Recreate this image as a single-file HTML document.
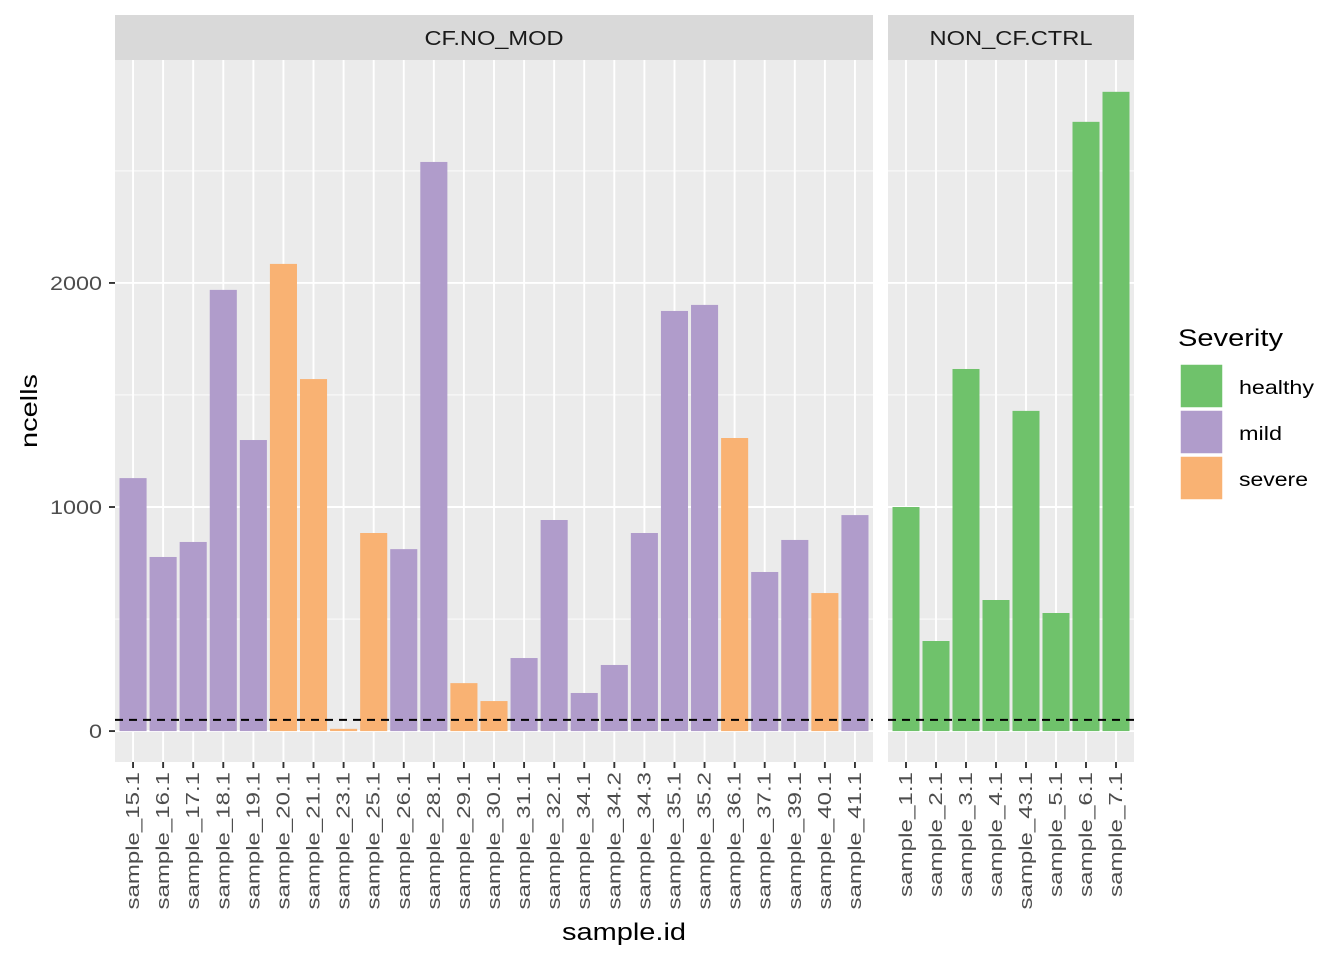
<!DOCTYPE html>
<html><head><meta charset="utf-8"><style>
html,body{margin:0;padding:0;background:#fff;}
svg text{font-family:"Liberation Sans",Arial,sans-serif;}
</style></head><body>
<svg id="chart" width="1344" height="960" xmlns="http://www.w3.org/2000/svg">
<g id="g"></g>
</svg>
<script>
const panel1Categories = ["sample_15.1","sample_16.1","sample_17.1","sample_18.1","sample_19.1","sample_20.1","sample_21.1","sample_23.1","sample_25.1","sample_26.1","sample_28.1","sample_29.1","sample_30.1","sample_31.1","sample_32.1","sample_34.1","sample_34.2","sample_34.3","sample_35.1","sample_35.2","sample_36.1","sample_37.1","sample_39.1","sample_40.1","sample_41.1"];
const panel1Values = [1129,777,844,1969,1299,2085,1571,10,884,812,2540,214,134,326,942,170,295,884,1875,1902,1308,710,853,616,964];
const panel1Severity = ["mild","mild","mild","mild","mild","severe","severe","severe","severe","mild","mild","severe","severe","mild","mild","mild","mild","mild","mild","mild","severe","mild","mild","severe","mild"];
const panel2Categories = ["sample_1.1","sample_2.1","sample_3.1","sample_4.1","sample_43.1","sample_5.1","sample_6.1","sample_7.1"];
const panel2Values = [1000,402,1616,585,1429,527,2719,2853];
const panel2Severity = ["healthy","healthy","healthy","healthy","healthy","healthy","healthy","healthy"];
const yTicks = [0,1000,2000];
const yMinor = [500,1500,2500];
const thresholdValue = 50;
const legendLevels = ["healthy","mild","severe"];

const colors = {healthy:"#6FC26B", mild:"#B09CCB", severe:"#F9B273"};
const NS = "http://www.w3.org/2000/svg";
const g = document.getElementById('g');
function el(tag, attrs, parent){ const e=document.createElementNS(NS,tag); for(const k in attrs) e.setAttribute(k,attrs[k]); (parent||g).appendChild(e); return e; }
const PT=60, PB=762;
const yMin=-138, yMax=2995;
function y(v){ return PB-(v-yMin)/(yMax-yMin)*(PB-PT); }
const CW=12.5; // px per character in x labels

function drawPanel(x0,x1,cats,vals,sev,title,name,titleLen){
  const n=cats.length, unit=(x1-x0)/(n-1+1.2);
  const xc=i=>x0+(0.6+i)*unit;
  const pg=el('g',{});
  
  
  el('rect',{x:x0,y:PT,width:x1-x0,height:PB-PT,fill:'#EBEBEB'},pg);
  yMinor.forEach(v=>el('line',{x1:x0,x2:x1,y1:y(v),y2:y(v),stroke:'#fff','stroke-width':0.9},pg));
  yTicks.forEach(v=>el('line',{x1:x0,x2:x1,y1:y(v),y2:y(v),stroke:'#fff','stroke-width':1.9},pg));
  cats.forEach((c,i)=>el('line',{x1:xc(i),x2:xc(i),y1:PT,y2:PB,stroke:'#fff','stroke-width':1.9},pg));
  vals.forEach((v,i)=>{
    const r=el('rect',{x:xc(i)-0.45*unit,width:0.9*unit,y:Math.min(y(v),y(0)),height:Math.abs(y(0)-y(v)),fill:colors[sev[i]]},pg);
    
    
  });
  const th=el('line',{x1:x0,x2:x1,y1:y(thresholdValue),y2:y(thresholdValue),stroke:'#000','stroke-width':2,'stroke-dasharray':'8,6'},pg);
  
  
  const st=el('rect',{x:x0,y:15,width:x1-x0,height:45,fill:'#D9D9D9'},pg);
  
  
  const t=el('text',{x:(x0+x1)/2,y:45,'text-anchor':'middle','font-size':20,fill:'#1A1A1A',textLength:titleLen,lengthAdjust:'spacingAndGlyphs'},pg);
  t.textContent=title;
  
  
  cats.forEach((c,i)=>{
    el('line',{x1:xc(i),x2:xc(i),y1:PB,y2:PB+6,stroke:'#333','stroke-width':1.9},pg);
    const l=el('text',{x:0,y:0,transform:`translate(${xc(i)+6},772) rotate(-90)`,'text-anchor':'end','font-size':18,fill:'#4D4D4D',textLength:c.length*CW,lengthAdjust:'spacingAndGlyphs'},pg);
    l.textContent=c;
    
    
  });
}
drawPanel(115,873,panel1Categories,panel1Values,panel1Severity,"CF.NO_MOD","panel-cf-no-mod",139);
drawPanel(888,1134,panel2Categories,panel2Values,panel2Severity,"NON_CF.CTRL","panel-non-cf-ctrl",163);

yTicks.forEach(v=>{
  el('line',{x1:109,x2:115,y1:y(v),y2:y(v),stroke:'#333','stroke-width':1.9});
  const s=String(v);
  const t=el('text',{x:102,y:y(v)+7,'text-anchor':'end','font-size':19,fill:'#4D4D4D',textLength:s.length*13,lengthAdjust:'spacingAndGlyphs'});
  t.textContent=s;
  
  
});
const yt=el('text',{x:0,y:0,transform:'translate(37,411) rotate(-90)','text-anchor':'middle','font-size':23,fill:'#000',textLength:74,lengthAdjust:'spacingAndGlyphs'});
yt.textContent='ncells';


const xt=el('text',{x:624,y:940,'text-anchor':'middle','font-size':24,fill:'#000',textLength:124,lengthAdjust:'spacingAndGlyphs'});
xt.textContent='sample.id';



const lt=el('text',{x:1178,y:346,'font-size':24,fill:'#000',textLength:105,lengthAdjust:'spacingAndGlyphs'});
lt.textContent='Severity';


const legendLens={healthy:75,mild:43,severe:69};
legendLevels.forEach((lv,i)=>{
  const yy=364+i*46;
  const k=el('rect',{x:1180,y:yy,width:43,height:44,fill:colors[lv],stroke:'#fff','stroke-width':1.5});
  
  
  const t=el('text',{x:1239,y:yy+30,'font-size':19,fill:'#000',textLength:legendLens[lv],lengthAdjust:'spacingAndGlyphs'});
  t.textContent=lv;
  
  
});
</script>
</body></html>
